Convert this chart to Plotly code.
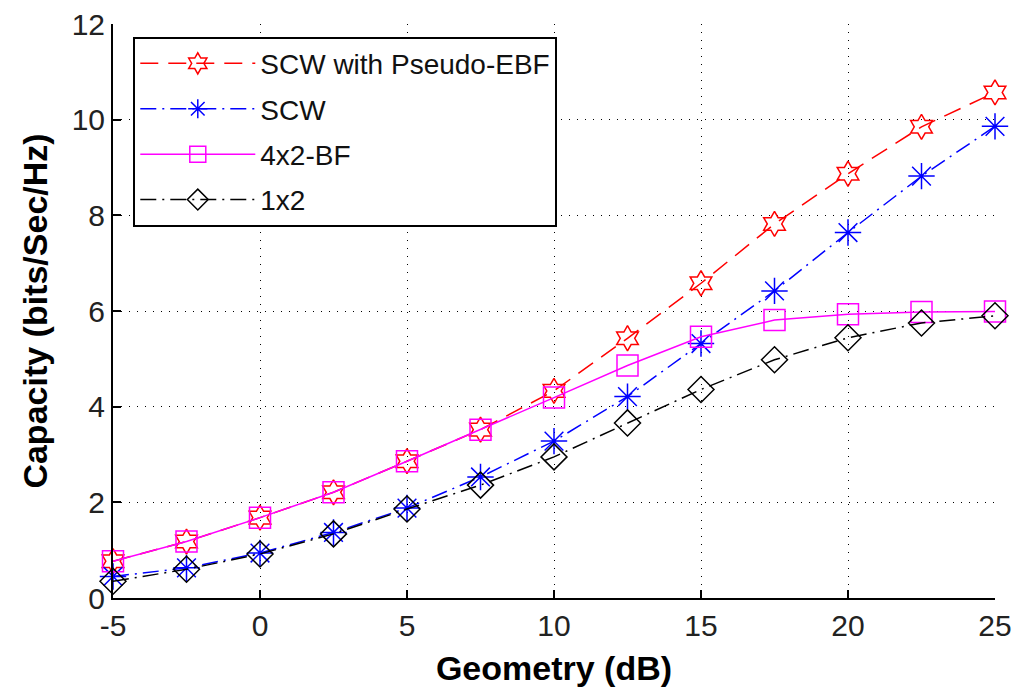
import plotly.graph_objects as go

geometry_db = [-5, -2.5, 0, 2.5, 5, 7.5, 10, 12.5, 15, 17.5, 20, 22.5, 25]
scw_pseudo_ebf = [0.77, 1.18, 1.68, 2.21, 2.86, 3.52, 4.33, 5.43, 6.58, 7.82, 8.87, 9.85, 10.57]
scw = [0.45, 0.63, 0.94, 1.37, 1.88, 2.53, 3.28, 4.21, 5.32, 6.42, 7.64, 8.82, 9.86]
bf_4x2 = [0.77, 1.18, 1.68, 2.21, 2.86, 3.52, 4.19, 4.86, 5.46, 5.81, 5.93, 5.98, 5.99]
one_x2 = [0.35, 0.6, 0.92, 1.34, 1.86, 2.36, 2.95, 3.66, 4.36, 4.98, 5.44, 5.75, 5.9]

series_names = ["SCW with Pseudo-EBF", "SCW", "4x2-BF", "1x2"]
x_ticks = [-5, 0, 5, 10, 15, 20, 25]
y_ticks = [0, 2, 4, 6, 8, 10, 12]

styles = [
    dict(color="#ff0000", dash="18px,10px", symbol="hexagram-open", size=19),
    dict(color="#0000ff", dash="16px,6px,2px,6px", symbol="asterisk-open", size=22),
    dict(color="#ff00ff", dash="solid", symbol="square-open", size=21),
    dict(color="#000000", dash="16px,6px,2px,6px", symbol="diamond-open", size=20),
]
data = [scw_pseudo_ebf, scw, bf_4x2, one_x2]

fig = go.Figure()
for i, (name, ys, st) in enumerate(zip(series_names, data, styles)):
    fig.add_trace(go.Scatter(
        x=geometry_db, y=ys, name=name, mode="lines+markers",
        legendgroup=f"g{i}", cliponaxis=False,
        line=dict(color=st["color"], width=1.5, dash=st["dash"]),
        marker=dict(symbol=st["symbol"], size=st["size"], color=st["color"],
                    line=dict(color=st["color"], width=1.5)),
    ))

tick_font = dict(family="Liberation Sans, Arial", size=30, color="#222222")
title_font = dict(family="Liberation Sans, Arial", size=34, color="#000000")

fig.update_layout(
    width=1014, height=688,
    margin=dict(l=113, r=19, t=24, b=90),
    paper_bgcolor="white", plot_bgcolor="white",
    showlegend=True,
    legend=dict(
        x=0.023, y=0.978, xanchor="left", yanchor="top",
        bgcolor="white", bordercolor="black", borderwidth=2,
        font=dict(family="Liberation Sans, Arial", size=28, color="#111111"),
        itemwidth=115, tracegroupgap=6,
    ),
    xaxis=dict(
        range=[-5, 25], tickvals=x_ticks, ticktext=[str(v) for v in x_ticks],
        showgrid=True, gridcolor="black", gridwidth=1, griddash="1px,7px",
        zeroline=False, showline=True, linecolor="black", linewidth=2,
        ticks="inside", ticklen=8, tickwidth=1.5, tickcolor="black",
        tickfont=tick_font, automargin=False,
        title=dict(text="<b>Geometry (dB)</b>", font=title_font, standoff=15),
    ),
    yaxis=dict(
        range=[0, 12], tickvals=y_ticks, ticktext=[str(v) for v in y_ticks],
        showgrid=True, gridcolor="black", gridwidth=1, griddash="1px,7px",
        zeroline=False, showline=True, linecolor="black", linewidth=2,
        ticks="inside", ticklen=8, tickwidth=1.5, tickcolor="black",
        tickfont=tick_font, automargin=False,
        title=dict(text="<b>Capacity (bits/Sec/Hz)</b>", font=title_font, standoff=14),
    ),
)

fig.write_html("out.html")
